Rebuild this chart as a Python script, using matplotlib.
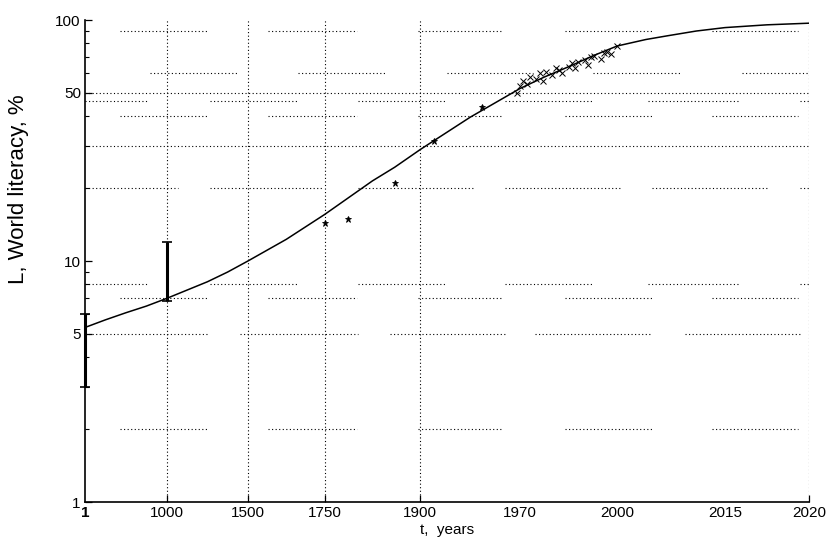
import numpy as np
import matplotlib
matplotlib.use("Agg")
import matplotlib.pyplot as plt
from matplotlib.ticker import FixedLocator, NullFormatter

plt.rcParams['font.family'] = ['Liberation Sans', 'DejaVu Sans']

# axis breakpoints of the non-uniform time axis
tick_years = [1, 1000, 1500, 1750, 1900, 1970, 2000, 2015, 2020]
tick_labels = ['1', '1000', '1500', '1750', '1900', '1970', '2000', '2015', '2020']

# fitted curve
curve_years = [1, 250, 500, 750, 1000, 1250, 1375, 1500, 1625, 1750, 1825,
               1860, 1900, 1935, 1970, 1977.5, 1985, 1992.5, 2000, 2004,
               2007, 2011, 2015, 2017.5, 2020]
curve_lit = [5.3, 5.7, 6.1, 6.5, 7.0, 8.2, 9.0, 10.0, 12.3, 15.6, 21.5,
             24.5, 29.0, 39.5, 52.0, 58.0, 64.0, 71.0, 78.0, 83.0,
             86.0, 90.0, 93.0, 95.5, 97.0]

# error bars (year, low, high)
err_years = [1, 1000]
err_low = [3.0, 6.8]
err_high = [6.0, 12.0]

# isolated estimates
pt_years = [1750, 1787, 1860, 1910, 1943]
pt_lit = [14.4, 15.0, 21.0, 31.5, 43.5]

# dense data 1968-2000
cl_years = [1968, 1970, 1971, 1972, 1973, 1975, 1976, 1977, 1978, 1980, 1981,
            1982, 1983, 1985, 1986, 1987, 1988, 1990, 1991, 1992, 1993, 1995,
            1996, 1997, 1998, 2000]
cl_lit = [50, 53, 56, 54, 58, 57, 60, 56, 61, 59, 63, 62, 60, 64, 66, 63, 67,
          68, 65, 70, 71, 69, 73, 74, 72, 78]

# where each labelled year sits along the axis (fraction of width)
tick_frac = [0.0, 0.113, 0.225, 0.331, 0.463, 0.601, 0.735, 0.884, 1.0]


def fwd(t):
    return np.interp(t, tick_years, tick_frac)


def inv(u):
    return np.interp(u, tick_frac, tick_years)


fig = plt.figure(figsize=(8.31, 5.48), dpi=100)
ax = fig.add_axes([0.1023, 0.0839, 0.8712, 0.8796])
ax.set_xscale('function', functions=(fwd, inv))
ax.set_yscale('log')
ax.set_xlim(1, 2020)
ax.set_ylim(1, 100)

# broken dotted horizontal grid, as it shows in the scan
pat_a = [(0.048, 0.170), (0.253, 0.376), (0.460, 0.577), (0.663, 0.783), (0.866, 0.985)]
pat_b = [(0.090, 0.211), (0.294, 0.414), (0.500, 0.619), (0.702, 0.822), (0.907, 0.999)]
pat_c = [(0.0, 0.087), (0.173, 0.293), (0.377, 0.497), (0.580, 0.700), (0.778, 0.902), (0.988, 1.0)]
pat_d = [(0.0, 0.128), (0.173, 0.327), (0.377, 0.536), (0.580, 0.742), (0.783, 0.943), (0.988, 1.0)]
pat_e = [(0.0, 0.170), (0.214, 0.377), (0.421, 0.580), (0.622, 0.783), (0.829, 0.988)]
full = [(0.0, 1.0)]
grid_rows = {90: pat_a, 60: pat_b, 50: full, 46: pat_c, 40: pat_a, 30: full,
             20: pat_d, 8: pat_c, 7: pat_a, 5: pat_e, 2: pat_a}
dot = dict(color='black', lw=0.8, linestyle=(0, (1, 2.2)), zorder=1)
for lev, segs in grid_rows.items():
    for a, b in segs:
        ax.axhline(lev, xmin=a, xmax=b, **dot)
for yr in [1000, 1500, 1750, 1900, 2020]:
    ax.axvline(yr, **dot)

ax.plot(curve_years, curve_lit, color='black', lw=1.1, zorder=3)
mid = [(l + h) / 2 for l, h in zip(err_low, err_high)]
ax.errorbar(err_years, mid,
            yerr=[[m - l for m, l in zip(mid, err_low)],
                  [h - m for m, h in zip(mid, err_high)]],
            fmt='none', ecolor='black', elinewidth=2.2, capsize=3.5,
            capthick=1.2, zorder=4, clip_on=False)
ax.plot(pt_years, pt_lit, linestyle='none', marker='*', ms=5, color='black',
        mew=0.6, zorder=4)
ax.plot(cl_years, cl_lit, linestyle='none', marker='x', ms=4, color='black',
        mew=0.7, zorder=4)

ax.set_xticks(tick_years)
ax.set_xticklabels(tick_labels, fontsize=11)
ax.get_xticklabels()[0].set_fontweight('bold')
ax.xaxis.set_minor_locator(FixedLocator([]))
for i, tk in enumerate(ax.xaxis.get_major_ticks()):
    if tick_labels[i] in ('1', '1970', '2000', '2015'):
        tk.tick1line.set_visible(False)

ax.yaxis.set_major_locator(FixedLocator([1, 5, 10, 50, 100]))
ax.set_yticklabels(['1', '5', '10', '50', '100'], fontsize=11)
ax.yaxis.set_minor_locator(FixedLocator([2, 3, 4, 6, 7, 8, 9, 20, 30, 40, 60, 70, 80, 90]))
ax.yaxis.set_minor_formatter(NullFormatter())
ax.tick_params(direction='in', length=5, width=0.9, pad=3)
ax.tick_params(which='minor', direction='in', length=3, width=0.8)

for s in ('top', 'right'):
    ax.spines[s].set_visible(False)
for s in ('left', 'bottom'):
    ax.spines[s].set_linewidth(1.2)

ax.set_xlabel('t,  years', fontsize=11, labelpad=2)
ax.set_ylabel('L, World literacy, %', fontsize=16)
ax.yaxis.set_label_coords(-0.078, 0.65)

fig.savefig('out.png', dpi=100)
